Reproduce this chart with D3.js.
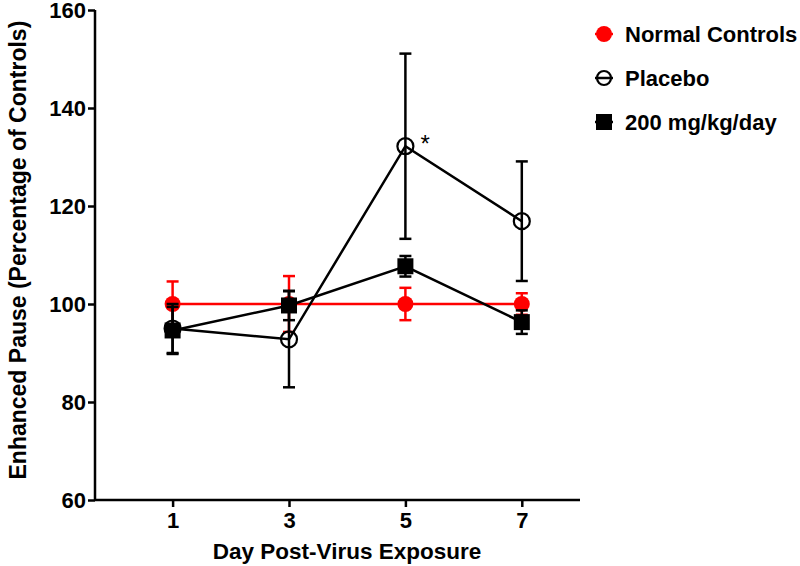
<!DOCTYPE html>
<html>
<head>
<meta charset="utf-8">
<script src="https://cdn.jsdelivr.net/npm/d3@7"></script>
<style>
  body { margin: 0; background: #fff; }
  text { font-family: "Liberation Sans", Arial, sans-serif; font-weight: bold; }
</style>
</head>
<body>
<script>
var days = [1, 3, 5, 7];
var yTicks = [60, 80, 100, 120, 140, 160];

var controlMean = [100, 100, 100, 100];
var controlErr = [4.6, 5.7, 3.3, 2.2];
var placeboMean = [95, 92.8, 132.2, 116.9];
var placeboErr = [5.0, 9.8, 18.9, 12.2];
var drugMean = [94.6, 99.7, 107.7, 96.3];
var drugErr = [4.8, 3.0, 2.1, 2.4];

var width = 800, height = 566;

var x = d3.scaleLinear().domain([-1/3, 8]).range([95, 580]);
var y = d3.scaleLinear().domain([60, 160]).range([500, 10]);

var svg = d3.select("body")
    .append("svg")
    .attr("width", width)
    .attr("height", height);

// axes
var yAxis = svg.append("g")
    .attr("transform", "translate(95,0)")
    .call(d3.axisLeft(y).tickValues(yTicks).tickSize(7).tickPadding(2));
var xAxis = svg.append("g")
    .attr("transform", "translate(0,500)")
    .call(d3.axisBottom(x).tickValues(days).tickSize(7).tickPadding(5));

[yAxis, xAxis].forEach(function(g){
    g.select(".domain").attr("stroke", "#000").attr("stroke-width", 2.5);
    g.selectAll(".tick line").attr("stroke", "#000").attr("stroke-width", 2.5);
    g.selectAll(".tick text")
        .attr("fill", "#000")
        .style("font-size", "22px")
        .style("font-family", "Liberation Sans, Arial, sans-serif")
        .style("font-weight", "bold");
});
// plain axis lines without outer ticks
yAxis.select(".domain").attr("d", "M0," + y(160) + "V" + y(60));
xAxis.select(".domain").attr("d", "M" + x(-1/3) + ",0H" + x(8));

svg.append("text")
    .attr("transform", "translate(26," + y(111) + ") rotate(-90)")
    .attr("text-anchor", "middle")
    .style("font-size", "23px")
    .text("Enhanced Pause (Percentage of Controls)");

svg.append("text")
    .attr("x", 347)
    .attr("y", 559)
    .attr("text-anchor", "middle")
    .style("font-size", "22.5px")
    .text("Day Post-Virus Exposure");

var line = d3.line()
    .x(function(d){ return x(d[0]); })
    .y(function(d){ return y(d[1]); });

function drawSeries(mean, err, color, marker){
    var pts = days.map(function(d, i){ return [d, mean[i], err[i]]; });
    var g = svg.append("g");
    g.append("path")
        .attr("d", line(pts))
        .attr("fill", "none")
        .attr("stroke", color)
        .attr("stroke-width", 2.5);
    pts.forEach(function(p){
        var cx = x(p[0]);
        g.append("line")
            .attr("x1", cx).attr("x2", cx)
            .attr("y1", y(p[1] - p[2])).attr("y2", y(p[1] + p[2]))
            .attr("stroke", color).attr("stroke-width", 2.5);
        [p[1] - p[2], p[1] + p[2]].forEach(function(v){
            g.append("line")
                .attr("x1", cx - 6).attr("x2", cx + 6)
                .attr("y1", y(v)).attr("y2", y(v))
                .attr("stroke", color).attr("stroke-width", 2.5);
        });
    });
    pts.forEach(function(p){
        marker(g, x(p[0]), y(p[1]));
    });
}

function redDot(g, cx, cy){
    g.append("circle").attr("cx", cx).attr("cy", cy).attr("r", 8).attr("fill", "#ff0000");
}
function openCircle(g, cx, cy){
    g.append("circle").attr("cx", cx).attr("cy", cy).attr("r", 8)
        .attr("fill", "none").attr("stroke", "#000").attr("stroke-width", 2.2);
}
function square(g, cx, cy){
    g.append("rect").attr("x", cx - 8).attr("y", cy - 8)
        .attr("width", 16).attr("height", 16).attr("fill", "#000");
}

drawSeries(controlMean, controlErr, "#ff0000", redDot);
drawSeries(placeboMean, placeboErr, "#000", openCircle);
drawSeries(drugMean, drugErr, "#000", square);

// significance mark
svg.append("text")
    .attr("x", x(5) + 15)
    .attr("y", y(placeboMean[2]) + 6)
    .style("font-size", "24px")
    .style("font-weight", "normal")
    .text("*");

// legend
var legendItems = [
    {label: "Normal Controls", color: "#ff0000", marker: redDot},
    {label: "Placebo", color: "#000", marker: openCircle},
    {label: "200 mg/kg/day", color: "#000", marker: square}
];
var legend = svg.append("g").attr("transform", "translate(604,34)");
legendItems.forEach(function(d, i){
    var g = legend.append("g").attr("transform", "translate(0," + (i * 44) + ")");
    g.append("line")
        .attr("x1", -9).attr("x2", 9)
        .attr("y1", 0).attr("y2", 0)
        .attr("stroke", d.color).attr("stroke-width", 2.5);
    if (i === 1) {
        g.append("circle").attr("r", 7).attr("fill", "none")
            .attr("stroke", "#000").attr("stroke-width", 2.2);
    } else {
        d.marker(g, 0, 0);
    }
    g.append("text")
        .attr("x", 21)
        .attr("y", 8)
        .style("font-size", "22px")
        .text(d.label);
});
</script>
</body>
</html>
